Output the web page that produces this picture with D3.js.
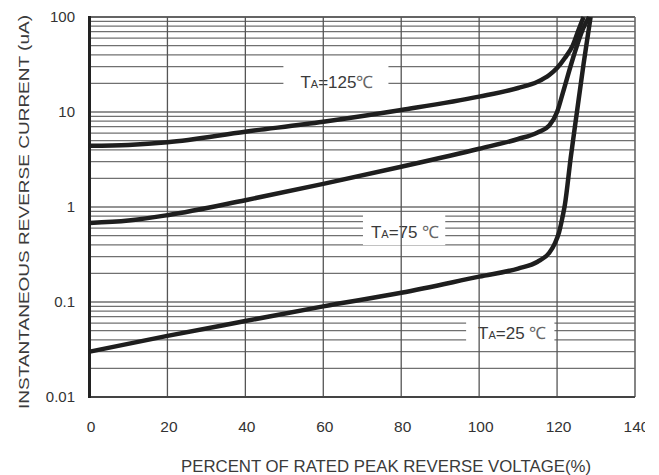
<!DOCTYPE html>
<html>
<head>
<meta charset="utf-8">
<script src="https://cdn.jsdelivr.net/npm/d3@7"></script>
<style>
  body { margin: 0; background: #fff; }
  svg { display: block; font-family: "Liberation Sans", Arial, sans-serif; }
</style>
</head>
<body>
<svg id="chart" width="645" height="475"></svg>
<script>
// percent of rated peak reverse voltage -> reverse current (uA)
const curve125 = [[0, 4.4], [10, 4.5], [20, 4.8], [40, 6.2], [60, 7.9], [80, 10.5], [100, 14.5],
    [110, 17.9], [115, 20.8], [118, 24.5], [120, 29], [122, 37], [124, 50], [125.5, 73], [126.8, 100]];
const curve75 = [[0, 0.68], [10, 0.72], [20, 0.82], [40, 1.18], [60, 1.75], [80, 2.65], [100, 4.1],
    [110, 5.2], [115, 6.1], [118, 7.2], [120, 10], [121.5, 16], [124.1, 37], [126.7, 76], [128.2, 100]];
const curve25 = [[0, 0.030], [20, 0.044], [40, 0.063], [60, 0.090], [80, 0.125], [100, 0.185],
    [110, 0.225], [115, 0.265], [118, 0.33], [119.5, 0.42], [120.5, 0.54], [121.3, 0.75], [122, 1.05],
    [123.5, 3.3], [125.1, 10], [126.8, 32], [128.6, 100]];
const xTicks = [0, 20, 40, 60, 80, 100, 120, 140];
const yTicks = [0.01, 0.1, 1, 10, 100];
const yTickLabels = ["0.01", "0.1", "1", "10", "100"];
const tempLabels = ["125", "75 ", "25 "];

const svg = d3.select("#chart");

const x = d3.scaleLinear().domain([0, 140]).range([89.5, 635]);
const y = d3.scaleLog().domain([0.01, 100]).range([397, 17]);

// minor log grid
const gridVals = [];
[0.01, 0.1, 1, 10].forEach(d => d3.range(1, 10).forEach(k => gridVals.push(d * k)));
gridVals.push(100);

svg.append("g")
    .selectAll("line")
    .data(gridVals)
    .join("line")
    .attr("x1", x(0)).attr("x2", x(140))
    .attr("y1", d => y(d)).attr("y2", d => y(d))
    .attr("stroke", "#707070")
    .attr("stroke-width", 1.3);

// label boxes mask the horizontal grid
const notes = [
    {text: tempLabels[0], x: 63.5, y: 17.8, padL: 17, padR: 15, padT: 17, padB: 12},
    {text: tempLabels[1], x: 81, y: 0.47, padL: 8, padR: 6, padT: 14, padB: 7},
    {text: tempLabels[2], x: 108.5, y: 0.041, padL: 12, padR: 8, padT: 8, padB: 9}
];

const noteG = svg.append("g");
notes.forEach(n => {
    const g = noteG.append("g");
    const rect = g.append("rect").attr("fill", "#fff");
    const t = g.append("text")
        .attr("x", x(n.x))
        .attr("y", y(n.y))
        .attr("text-anchor", "middle")
        .attr("fill", "#3a3a3a")
        .attr("font-size", 17);
    t.append("tspan").text("T");
    t.append("tspan").attr("font-size", 11).text("A");
    t.append("tspan").text("=" + n.text);
    t.append("tspan").attr("fill", "#666").text("\u2103");
    const b = t.node().getBBox();
    const top = y(n.y) - 12;
    rect.attr("x", b.x - n.padL).attr("width", b.width + n.padL + n.padR)
        .attr("y", top - n.padT).attr("height", 12 + n.padT + n.padB);
});

// vertical grid
svg.append("g")
    .selectAll("line")
    .data(xTicks.slice(1, -1))
    .join("line")
    .attr("x1", d => x(d)).attr("x2", d => x(d))
    .attr("y1", y(100)).attr("y2", y(0.01))
    .attr("stroke", "#555")
    .attr("stroke-width", 1.3);

// frame
svg.append("line").attr("x1", x(0)).attr("x2", x(140)).attr("y1", y(100)).attr("y2", y(100))
    .attr("stroke", "#555").attr("stroke-width", 1.6);
svg.append("line").attr("x1", x(140)).attr("x2", x(140)).attr("y1", y(100)).attr("y2", y(0.01))
    .attr("stroke", "#666").attr("stroke-width", 1.6);
svg.append("line").attr("x1", x(0)).attr("x2", x(140)).attr("y1", y(0.01)).attr("y2", y(0.01))
    .attr("stroke", "#444").attr("stroke-width", 2);
svg.append("line").attr("x1", x(0)).attr("x2", x(0)).attr("y1", y(100) - 1).attr("y2", y(0.01) + 1)
    .attr("stroke", "#222").attr("stroke-width", 3);

// curves
const line = d3.line()
    .x(d => x(d[0]))
    .y(d => y(d[1]))
    .curve(d3.curveMonotoneX);

svg.append("g")
    .selectAll("path")
    .data([curve125, curve75, curve25])
    .join("path")
    .attr("d", line)
    .attr("fill", "none")
    .attr("stroke", "#1e1e1e")
    .attr("stroke-width", 4.5)
    .attr("stroke-linejoin", "round");

// tick labels
svg.append("g")
    .selectAll("text")
    .data(yTicks)
    .join("text")
    .attr("x", 75)
    .attr("y", d => y(d) + 5)
    .attr("text-anchor", "end")
    .attr("font-size", 15)
    .attr("fill", "#333")
    .text((d, i) => yTickLabels[i]);

// the source image is cropped just past the last tick label
svg.append("g")
    .selectAll("text")
    .data(xTicks)
    .join("text")
    .attr("x", d => x(d) + 1.5)
    .attr("y", 432)
    .attr("text-anchor", "middle")
    .attr("font-size", 15.5)
    .attr("fill", "#333")
    .text(d => d);

// axis titles
svg.append("text")
    .attr("transform", "translate(29,212) rotate(-90)")
    .attr("text-anchor", "middle")
    .attr("font-size", 15)
    .attr("fill", "#3a3a3a")
    .attr("textLength", 394)
    .attr("lengthAdjust", "spacingAndGlyphs")
    .text("INSTANTANEOUS REVERSE CURRENT (uA)");

svg.append("text")
    .attr("x", 386)
    .attr("y", 472)
    .attr("text-anchor", "middle")
    .attr("font-size", 17)
    .attr("fill", "#3a3a3a")
    .attr("textLength", 410)
    .attr("lengthAdjust", "spacingAndGlyphs")
    .text("PERCENT OF RATED PEAK REVERSE VOLTAGE(%)");
</script>
</body>
</html>
